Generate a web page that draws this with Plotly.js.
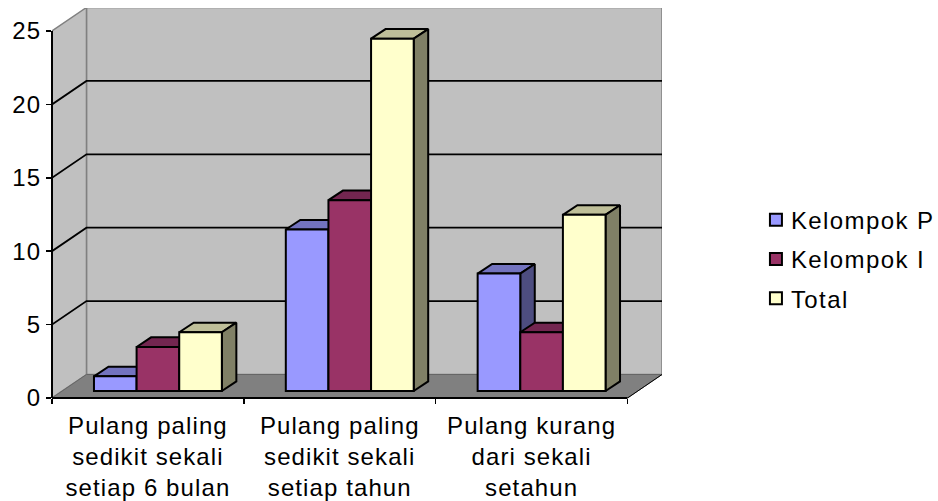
<!DOCTYPE html>
<html>
<head>
<meta charset="utf-8">
<script src="https://cdn.plot.ly/plotly-3.0.1.min.js"></script>
<style>
html,body{margin:0;padding:0;background:#fff}
#chart{width:938px;height:501px}
.xtick text,.ytick text{letter-spacing:1.1px}
.legendtext{letter-spacing:1.4px;transform:translateX(-5px)}
.legendbar{transform:translate(20px,0) scale(1.2)}
</style>
</head>
<body>
<div id="chart"></div>
<script>
const categories = ["Pulang paling<br>sedikit sekali<br>setiap 6 bulan","Pulang paling<br>sedikit sekali<br>setiap tahun","Pulang kurang<br>dari sekali<br>setahun"];
const kelompokP = [1, 11, 8];
const kelompokI = [3, 13, 4];
const total = [4, 24, 12];
const seriesNames = ["Kelompok P", "Kelompok I", "Total"];
const yTicks = [0, 5, 10, 15, 20, 25];

const frontColors = ["#9999FF", "#993366", "#FFFFCC"];
const topColors = ["#7373BF", "#732650", "#BFBF99"];
const sideColors = ["#4D4D80", "#4D1A33", "#808066"];

// projection, in axis units (one category = 192px, one y unit = 14.68px)
const pxX = 192, pxY = 14.68;
const wallDX = 34.5 / pxX, wallDY = 23.5 / pxY;
const liftX = 10 / pxX, liftY = 7 / pxY;
const barDX = 14.5 / pxX, barDY = 9.6 / pxY;
const barW = (2 / 3) / 3;
const x0 = -0.5, x1 = 2.5, yMax = 25;

const traces = [];
function poly(xs, ys, fill, line, width, z) {
  traces.push({type:"scatter", mode:"lines", x:xs, y:ys, fill: fill ? "toself" : "none",
    fillcolor: fill || undefined, line:{color:line, width:width, simplify:false}, showlegend:false,
    hoverinfo:"skip", cliponaxis:false, zorder:z});
}
// walls and floor
poly([x0+wallDX,x1+wallDX,x1+wallDX,x0+wallDX,x0+wallDX],[wallDY,wallDY,yMax+wallDY,yMax+wallDY,wallDY],"#C0C0C0","#808080",1.5,0);
poly([x0,x0+wallDX,x0+wallDX,x0,x0],[0,wallDY,yMax+wallDY,yMax,0],"#C0C0C0","#808080",1.5,0);
poly([x0,x1,x1+wallDX,x0+wallDX,x0],[0,0,wallDY,wallDY,0],"#808080","#666666",1,0);
// gridlines
yTicks.filter(v => v > 0 && v < yMax).forEach(v => {
  poly([x0,x0+wallDX,x1+wallDX],[v,v+wallDY,v+wallDY],null,"#000000",1.8,0);
});
poly([x1,x1+wallDX/2,x1+wallDX],[0,wallDY/2,wallDY],null,"#000000",1,0);

[kelompokP,kelompokI,total].forEach((vals,i) => {
  const tx=[],ty=[],sx=[],sy=[];
  vals.forEach((v,c) => {
    const l = c + liftX + (i-1.5)*barW, r = l + barW, h = v + liftY;
    tx.push(l,l+barDX,r+barDX,r,l,null); ty.push(h,h+barDY,h+barDY,h,h,null);
    sx.push(r,r+barDX,r+barDX,r,r,null); sy.push(liftY,liftY+barDY,h+barDY,h,liftY,null);
  });
  poly(tx,ty,topColors[i],"#000000",2,2*i+1);
  poly(sx,sy,sideColors[i],"#000000",2,2*i+1);
  traces.push({type:"bar", name:seriesNames[i], legendgroup:seriesNames[i],
    x:[0,1,2].map(c => c + liftX), y:vals, base:liftY, width:barW, offset:(i-1.5)*barW,
    marker:{color:frontColors[i], line:{color:"#000000", width:2}},
    hoverinfo:"skip", zorder:2*i+2, cliponaxis:false});
});

const font = {family:"Liberation Sans, Arial, sans-serif", size:24, color:"#000000"};
const layout = {
  width:938, height:501, autosize:false, paper_bgcolor:"#FFFFFF", plot_bgcolor:"rgba(0,0,0,0)",
  margin:{l:52, r:276, t:8, b:103, pad:0, autoexpand:false}, font:font, barmode:"overlay", showlegend:true,
  hovermode:false,
  // front axis lines stop at the front plane, short of the plot area's far edges
  shapes:[
    {type:"line", layer:"above", xref:"paper", yref:"y", x0:0, x1:0, y0:0, y1:yMax, line:{color:"#000000", width:2}},
    {type:"line", layer:"above", xref:"x", yref:"paper", x0:x0, x1:x1, y0:0, y1:0, line:{color:"#000000", width:2}}
  ],
  xaxis:{range:[x0, x1+wallDX], tickmode:"array", tickvals:[0,1,2], ticktext:categories,
    ticks:"outside", ticklen:6, tickcolor:"rgba(0,0,0,0)", showgrid:false, zeroline:false, showline:false,
    tickangle:0, automargin:false, tickfont:font, fixedrange:true,
    minor:{tickmode:"array", tickvals:[-0.5,0.5,1.5,2.5], ticks:"outside", ticklen:5, tickwidth:1.5, tickcolor:"#000000", showgrid:false}},
  yaxis:{range:[0,(398-8)/pxY], tickmode:"array", tickvals:yTicks, ticks:"outside", ticklen:5, tickwidth:1.5,
    tickcolor:"#000000", showgrid:false, zeroline:false, showline:false, automargin:false, tickfont:font, fixedrange:true},
  legend:{x:1.154, y:0.356, xanchor:"left", yanchor:"middle", font:{family:font.family,size:24,color:"#000"},
    tracegroupgap:5, bgcolor:"rgba(0,0,0,0)", itemclick:false, itemdoubleclick:false}
};
Plotly.newPlot("chart", traces, layout, {displayModeBar:false, staticPlot:true});
</script>
</body>
</html>
